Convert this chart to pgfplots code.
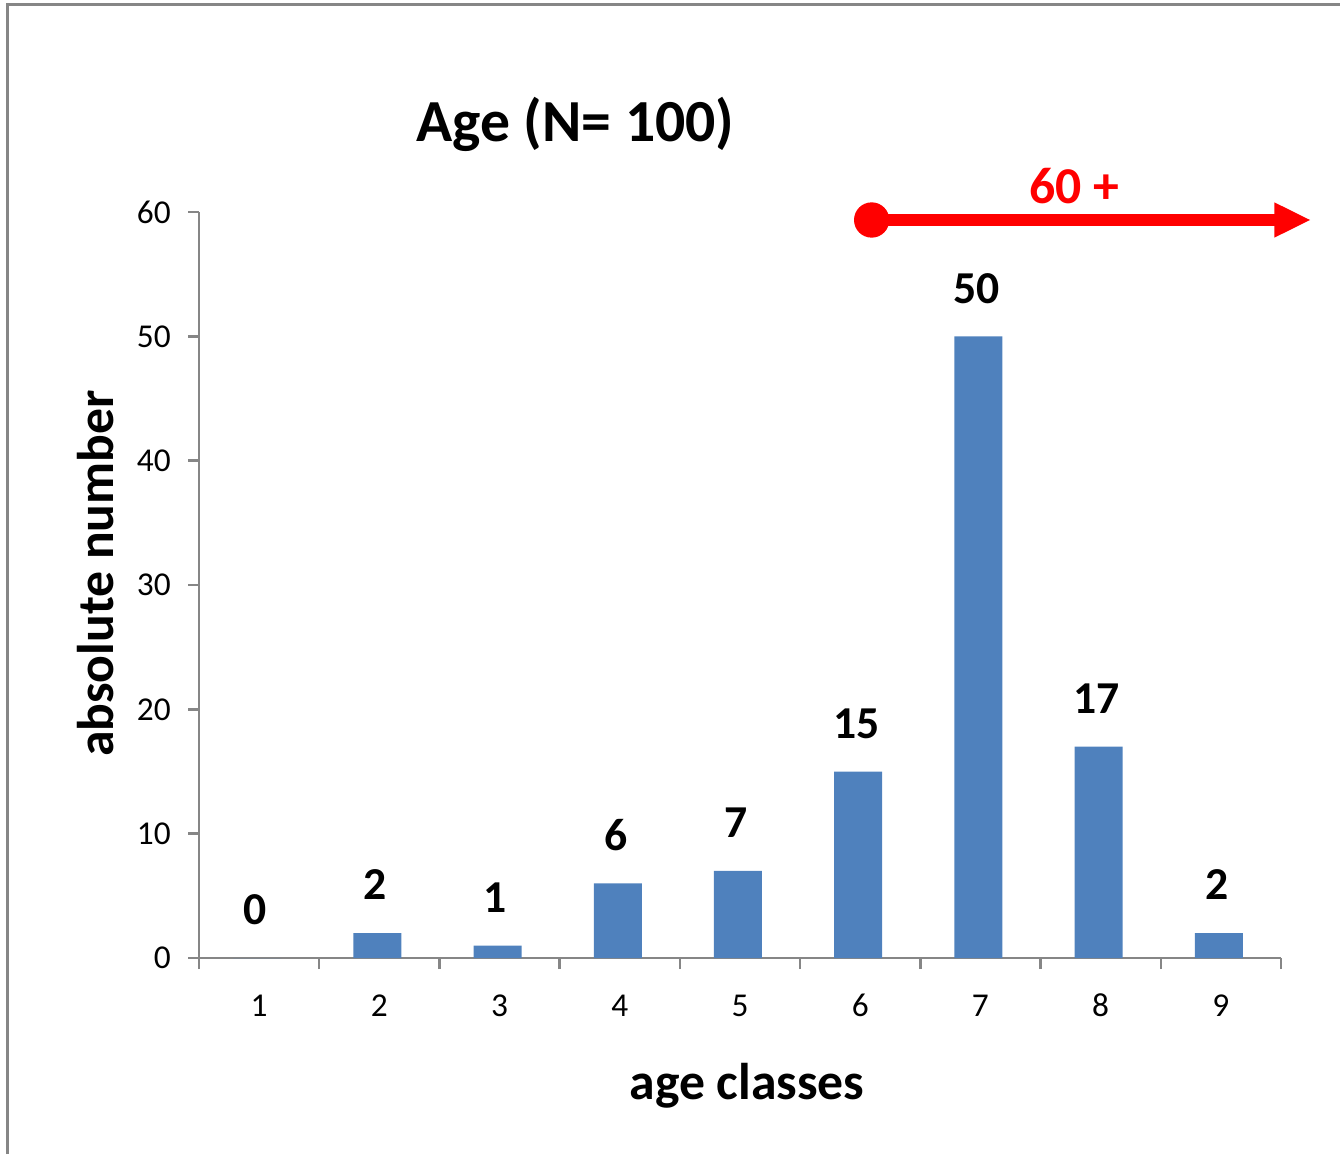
\documentclass[border=0pt]{standalone}
\usepackage{pgfplots}
\pgfplotsset{compat=1.18}
\usepackage{fontspec}
\setmainfont{Carlito}
\definecolor{barblue}{HTML}{4F81BD}
\definecolor{axgray}{HTML}{868686}
\begin{document}
\begin{tikzpicture}
\path[use as bounding box] (0,0) rectangle (402pt,346.2pt);
\draw[axgray, line width=0.9pt] (2.1pt,0) -- (2.1pt,344.7pt) -- (402pt,344.7pt);
\begin{axis}[
  at={(59.7pt,58.8pt)}, anchor=south west,
  scale only axis, width=324.6pt, height=223.8pt,
  xmin=0.5, xmax=9.5, ymin=0, ymax=60,
  axis x line=bottom, axis y line=left,
  axis line style={-, axgray, line width=0.75pt},
  ytick={0,10,20,30,40,50,60},
  xtick={0.5,1.5,2.5,3.5,4.5,5.5,6.5,7.5,8.5,9.5},
  x tick label as interval,
  xticklabels={1,2,3,4,5,6,7,8,9},
  tick align=outside, major tick length=3.3pt,
  tick style={axgray, line width=0.75pt},
  ticklabel style={font=\fontsize{10}{12}\selectfont},
  xticklabel style={anchor=base, yshift=-14.3pt},
  yticklabel style={anchor=east, inner sep=0pt, xshift=-5pt},
  /pgf/number format/assume math mode=true,
  ybar, bar width=14.4pt, bar shift=-0.6pt,
  nodes near coords,
  every node near coord/.append style={anchor=base, yshift=10pt, xshift=-0.6pt, font=\bfseries\fontsize{13.7}{16}\selectfont, black},
  title={Age (N= 100)},
  title style={at={(axis description cs:0.348,1.0684)}, anchor=base, font=\bfseries\fontsize{17.9}{20}\selectfont},
  xlabel={age classes},
  xlabel style={at={(axis description cs:0.5065,-0.1903)}, anchor=base, font=\bfseries\fontsize{15.5}{18}\selectfont},
  ylabel={absolute number},
  ylabel style={at={(axis description cs:-0.0786,0.5154)}, anchor=base, rotate=0, font=\bfseries\fontsize{15.5}{18}\selectfont},
  clip=false,
]
\addplot[fill=barblue, draw=none] coordinates {(1,0) (2,2) (3,1) (4,6) (5,7) (6,15) (7,50) (8,17) (9,2)};
\end{axis}
\fill[red] (261.5pt,280.2pt) circle (5.3pt);
\draw[red, line width=3.5pt] (261.5pt,280.2pt) -- (383pt,280.2pt);
\fill[red] (382.3pt,285.5pt) -- (393pt,280.2pt) -- (382.3pt,274.9pt) -- cycle;
\node[red, anchor=base, font=\bfseries\fontsize{15.5}{18}\selectfont] at (322.2pt,285pt) {60 +};
\end{tikzpicture}
\end{document}
